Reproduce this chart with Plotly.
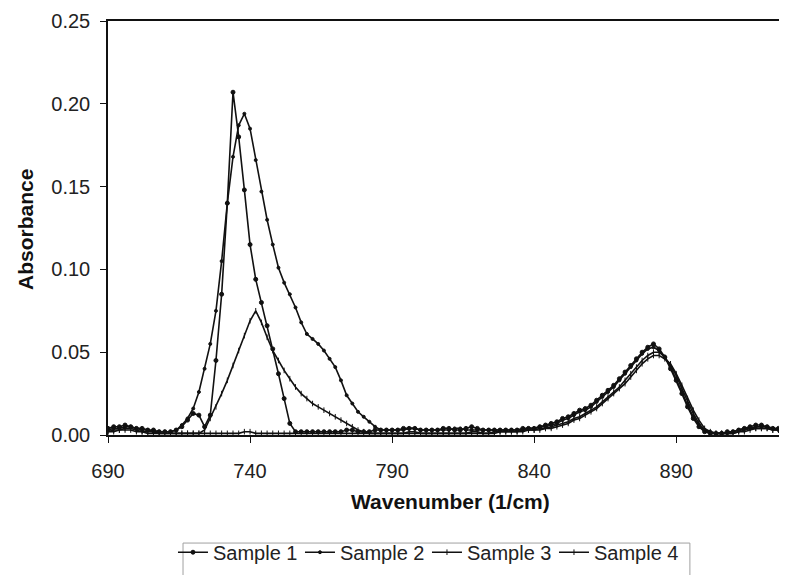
import plotly.graph_objects as go

# wavenumber grid (1/cm), every 2 units from 690 to 928
wavenumber = list(range(690, 930, 2))

sample_1 = [
    0.004, 0.005, 0.005, 0.006, 0.005, 0.004, 0.004, 0.003, 0.003, 0.002,
    0.002, 0.002, 0.003, 0.005, 0.009, 0.013, 0.012, 0.005, 0.012, 0.045,
    0.085, 0.140, 0.207, 0.180, 0.148, 0.115, 0.094, 0.080, 0.066, 0.052,
    0.037, 0.022, 0.007, 0.002, 0.002, 0.002, 0.002, 0.002, 0.002, 0.002,
    0.002, 0.002, 0.003, 0.003, 0.002, 0.002, 0.002, 0.003, 0.003, 0.003,
    0.003, 0.003, 0.004, 0.004, 0.004, 0.003, 0.003, 0.003, 0.003, 0.004,
    0.004, 0.003, 0.003, 0.004, 0.005, 0.004, 0.003, 0.003, 0.003, 0.003,
    0.003, 0.003, 0.003, 0.004, 0.004, 0.004, 0.005, 0.006, 0.007, 0.008,
    0.010, 0.011, 0.013, 0.015, 0.016, 0.018, 0.021, 0.024, 0.027, 0.030,
    0.034, 0.038, 0.042, 0.046, 0.050, 0.053, 0.055, 0.052, 0.047, 0.040,
    0.033, 0.025, 0.017, 0.010, 0.005, 0.002, 0.001, 0.001, 0.001, 0.002,
    0.002, 0.003, 0.004, 0.005, 0.006, 0.006, 0.005, 0.004, 0.004, 0.003,
]

sample_2 = [
    0.003, 0.004, 0.004, 0.005, 0.005, 0.004, 0.003, 0.003, 0.002, 0.002,
    0.002, 0.002, 0.003, 0.006, 0.010, 0.016, 0.026, 0.040, 0.055, 0.075,
    0.105, 0.140, 0.168, 0.187, 0.194, 0.185, 0.166, 0.147, 0.130, 0.115,
    0.101, 0.092, 0.085, 0.077, 0.068, 0.061, 0.058, 0.055, 0.051, 0.046,
    0.041, 0.033, 0.024, 0.019, 0.014, 0.011, 0.008, 0.005, 0.003, 0.003,
    0.003, 0.003, 0.003, 0.004, 0.004, 0.003, 0.003, 0.003, 0.003, 0.003,
    0.003, 0.004, 0.004, 0.003, 0.003, 0.003, 0.003, 0.003, 0.003, 0.003,
    0.003, 0.003, 0.003, 0.003, 0.004, 0.004, 0.005, 0.005, 0.006, 0.007,
    0.009, 0.010, 0.012, 0.014, 0.015, 0.017, 0.020, 0.023, 0.026, 0.029,
    0.033, 0.037, 0.041, 0.045, 0.049, 0.052, 0.053, 0.051, 0.047, 0.041,
    0.034, 0.026, 0.018, 0.011, 0.006, 0.003, 0.002, 0.001, 0.001, 0.001,
    0.002, 0.003, 0.004, 0.004, 0.005, 0.005, 0.005, 0.004, 0.003, 0.003,
]

sample_3 = [
    0.002, 0.003, 0.003, 0.004, 0.004, 0.003, 0.002, 0.002, 0.002, 0.001,
    0.001, 0.001, 0.001, 0.001, 0.001, 0.001, 0.001, 0.003, 0.010, 0.017,
    0.025, 0.033, 0.042, 0.051, 0.060, 0.069, 0.075, 0.068, 0.059, 0.051,
    0.045, 0.039, 0.034, 0.029, 0.025, 0.022, 0.019, 0.017, 0.015, 0.013,
    0.011, 0.009, 0.007, 0.005, 0.003, 0.002, 0.001, 0.001, 0.001, 0.001,
    0.001, 0.001, 0.001, 0.001, 0.001, 0.001, 0.001, 0.001, 0.001, 0.001,
    0.001, 0.001, 0.001, 0.001, 0.001, 0.001, 0.001, 0.001, 0.002, 0.002,
    0.002, 0.002, 0.002, 0.003, 0.003, 0.003, 0.004, 0.004, 0.005, 0.006,
    0.007, 0.008, 0.010, 0.011, 0.013, 0.015, 0.017, 0.020, 0.023, 0.026,
    0.029, 0.033, 0.037, 0.041, 0.045, 0.048, 0.050, 0.050, 0.047, 0.042,
    0.036, 0.028, 0.020, 0.013, 0.007, 0.003, 0.001, 0.001, 0.001, 0.001,
    0.001, 0.002, 0.003, 0.004, 0.004, 0.004, 0.004, 0.003, 0.003, 0.002,
]

sample_4 = [
    0.002, 0.002, 0.003, 0.003, 0.003, 0.002, 0.002, 0.001, 0.001, 0.001,
    0.001, 0.001, 0.001, 0.001, 0.001, 0.001, 0.001, 0.001, 0.001, 0.001,
    0.001, 0.001, 0.001, 0.001, 0.002, 0.002, 0.001, 0.001, 0.001, 0.001,
    0.001, 0.001, 0.001, 0.001, 0.001, 0.001, 0.001, 0.001, 0.001, 0.001,
    0.001, 0.001, 0.001, 0.001, 0.001, 0.001, 0.001, 0.001, 0.001, 0.001,
    0.001, 0.001, 0.001, 0.002, 0.002, 0.001, 0.001, 0.001, 0.001, 0.001,
    0.001, 0.001, 0.001, 0.001, 0.002, 0.002, 0.001, 0.001, 0.001, 0.002,
    0.002, 0.002, 0.002, 0.002, 0.003, 0.003, 0.003, 0.004, 0.004, 0.005,
    0.006, 0.007, 0.009, 0.010, 0.012, 0.014, 0.016, 0.019, 0.022, 0.025,
    0.028, 0.031, 0.035, 0.039, 0.043, 0.046, 0.048, 0.048, 0.046, 0.043,
    0.037, 0.030, 0.022, 0.015, 0.009, 0.004, 0.002, 0.001, 0.001, 0.001,
    0.001, 0.002, 0.002, 0.003, 0.004, 0.004, 0.004, 0.003, 0.003, 0.002,
]

names = ["Sample 1", "Sample 2", "Sample 3", "Sample 4"]
series = [sample_1, sample_2, sample_3, sample_4]
symbols = ["circle", "circle", "line-ns-open", "line-ns-open"]
sizes = [4, 3, 4, 4]

x_ticks = [690, 740, 790, 840, 890]
y_ticks = [0.0, 0.05, 0.10, 0.15, 0.20, 0.25]

FONT = "Arial, 'Liberation Sans', sans-serif"
INK = "#111111"

fig = go.Figure()
for name, ys, sym, sz in zip(names, series, symbols, sizes):
    fig.add_trace(go.Scatter(
        x=wavenumber, y=ys, name=name,
        mode="lines+markers",
        line=dict(color=INK, width=1.6),
        marker=dict(symbol=sym, size=sz, color=INK, line=dict(color=INK, width=1)),
    ))

# the page body has an 8px margin, so the figure is 8px smaller than the window
fig.update_layout(
    template="none",
    width=779, height=567,
    margin=dict(l=100, r=0, t=13, b=140, autoexpand=False),
    paper_bgcolor="white", plot_bgcolor="white",
    font=dict(family=FONT, size=20, color="#222222"),
    showlegend=True,
    legend=dict(
        orientation="h", x=0.0957, y=-0.236, xanchor="left", yanchor="top",
        font=dict(family=FONT, size=20, color="#222222"),
        bgcolor="rgba(0,0,0,0)", borderwidth=0,
        itemwidth=30, entrywidth=82, entrywidthmode="pixels",
    ),
    shapes=[
        dict(type="rect", xref="paper", yref="paper",
             x0=0.1105, x1=0.857, y0=-0.261, y1=-0.40,
             line=dict(color="#a0a0a0", width=1), fillcolor="rgba(0,0,0,0)"),
    ],
    annotations=[
        dict(text="<b>Wavenumber (1/cm)</b>", x=0.505, y=-0.16,
             xref="paper", yref="paper", showarrow=False,
             xanchor="center", yanchor="middle",
             font=dict(family=FONT, size=21, color="#111111")),
        dict(text="<b>Absorbance</b>", x=-0.1208, y=0.4976,
             xref="paper", yref="paper", showarrow=False, textangle=-90,
             xanchor="center", yanchor="middle",
             font=dict(family=FONT, size=21, color="#111111")),
    ],
)

fig.update_xaxes(
    range=[690, 929], tickvals=x_ticks, ticks="outside", ticklen=6,
    tickcolor=INK, showline=True, linecolor=INK, linewidth=1.5, mirror=True,
    showgrid=False, zeroline=False, ticklabelstandoff=11, automargin=False,
    ticklabeloverflow="allow",
)
fig.update_yaxes(
    range=[0, 0.25], tickvals=y_ticks, tickformat=".2f", ticks="outside",
    ticklen=6, tickcolor=INK, showline=True, linecolor=INK, linewidth=1.5,
    showgrid=False, zeroline=False, ticklabelstandoff=6, automargin=False,
    ticklabeloverflow="allow",
)

fig.write_html("out.html")
